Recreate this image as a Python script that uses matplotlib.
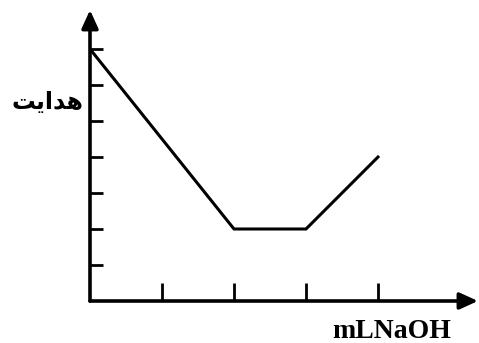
import matplotlib.pyplot as plt

# titration curve: conductance vs mL NaOH
x_vals = [0, 2, 3, 4]
y_vals = [7, 2, 2, 4]
x_ticks = [1, 2, 3, 4]
y_ticks = [1, 2, 3, 4, 5, 6, 7]
x_label = "mLNaOH"
# "هدایت" written in presentation forms (visual order) so it draws joined
y_label = "\uFE96\uFEF3\uFE8D\uFEAA\uFEEB"

fig = plt.figure(figsize=(4.79, 3.43), dpi=100)
ax = fig.add_axes([90 / 479, 42 / 343, 388 / 479, 291 / 343])
ax.set_xlim(0, 388 / 72)
ax.set_ylim(0, 291 / 36)

ax.plot(x_vals, y_vals, color="black", lw=2.2, solid_joinstyle="miter")

for s in ax.spines.values():
    s.set_visible(False)

# axes with arrow heads
arrow = dict(arrowstyle="-|>,head_length=1.1,head_width=0.5", color="black", lw=2.6,
             shrinkA=0, shrinkB=0)
ax.annotate("", xy=(1, 0), xytext=(0, 0), xycoords="axes fraction", arrowprops=arrow)
ax.annotate("", xy=(0, 1), xytext=(0, 0), xycoords="axes fraction", arrowprops=arrow)

ax.set_xticks(x_ticks)
ax.set_yticks(y_ticks)
ax.tick_params(axis="x", direction="in", length=13, width=2, labelbottom=False)
ax.tick_params(axis="y", direction="in", length=9, width=2, labelleft=False)

fig.text(47 / 479, 1 - 102 / 343, y_label, ha="center", va="center",
         fontsize=17, fontweight="bold", family="DejaVu Sans")
fig.text(392 / 479, 1 - 331 / 343, x_label, ha="center", va="center",
         fontsize=20, fontweight="bold", family="Liberation Serif")

fig.savefig("out.png", dpi=100)
